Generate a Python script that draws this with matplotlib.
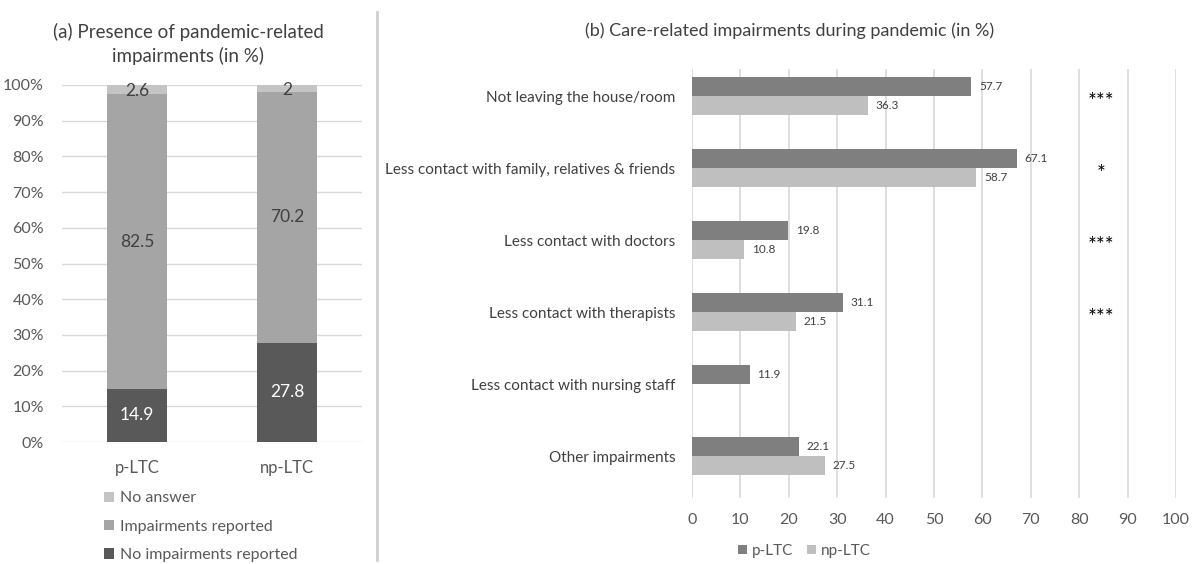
import numpy as np
import matplotlib.pyplot as plt

plt.rcParams['font.family'] = ['Lato', 'DejaVu Sans']

# left panel data
groups = ['p-LTC', 'np-LTC']
no_impair = [14.9, 27.8]
impair = [82.5, 70.2]
no_answer = [2.6, 2.0]

# right panel data
items = ['Not leaving the house/room',
         'Less contact with family, relatives & friends',
         'Less contact with doctors',
         'Less contact with therapists',
         'Less contact with nursing staff',
         'Other impairments']
p_ltc = [57.7, 67.1, 19.8, 31.1, 11.9, 22.1]
np_ltc = [36.3, 58.7, 10.8, 21.5, np.nan, 27.5]
stars = ['***', '*', '***', '***', '', '']

DARK = '#595959'
MID = '#a5a5a5'
LIGHT = '#c4c4c4'
BAR1 = '#7f7f7f'
BAR2 = '#bfbfbf'
TXT = '#404040'
GRID = '#d9d9d9'

fig = plt.figure(figsize=(11.94, 5.64), dpi=100)
W, H = 1194, 564

def px(x0, y0, x1, y1):
    return [x0 / W, 1 - y1 / H, (x1 - x0) / W, (y1 - y0) / H]

# ---- left: stacked bars
ax1 = fig.add_axes(px(62, 85, 362, 442))
x = np.arange(len(groups))
bw = 0.4
b1 = ax1.bar(x, no_impair, bw, color=DARK, label='No impairments reported')
b2 = ax1.bar(x, impair, bw, bottom=no_impair, color=MID, label='Impairments reported')
bot3 = np.array(no_impair) + np.array(impair)
b3 = ax1.bar(x, no_answer, bw, bottom=bot3, color=LIGHT, label='No answer')
for i in range(len(groups)):
    ax1.text(x[i], no_impair[i] / 2, '%g' % no_impair[i], ha='center', va='center',
             color='white', fontsize=12.5)
    ax1.text(x[i], no_impair[i] + impair[i] / 2, '%g' % impair[i], ha='center',
             va='center', color=TXT, fontsize=12.5)
    ax1.text(x[i], 100 - no_answer[i] / 2 - 0.3, '%g' % no_answer[i], ha='center',
             va='center', color=TXT, fontsize=12.5)
ax1.set_xlim(-0.5, 1.5)
ax1.set_ylim(0, 100)
ax1.set_yticks(np.arange(0, 101, 10))
ax1.set_yticklabels(['%d%%' % v for v in range(0, 101, 10)])
ax1.set_xticks(x)
ax1.set_xticklabels(groups)
ax1.tick_params(axis='y', length=0, labelsize=11.5, labelcolor='#595959', pad=13)
ax1.tick_params(axis='x', length=0, labelsize=12, labelcolor='#595959', pad=13)
for s in ax1.spines.values():
    s.set_visible(False)
ax1.yaxis.grid(True, color=GRID, lw=1)
ax1.set_axisbelow(True)
fig.text(188 / W, 1 - 44 / H, '(a) Presence of pandemic-related\nimpairments (in %)',
         ha='center', va='center', fontsize=13.5, color=TXT, linespacing=1.45)
fig.legend(handles=[b3, b2, b1], loc='upper left', bbox_to_anchor=(90 / W, 1 - 477 / H),
           frameon=False, fontsize=11.5, handlelength=0.6, handleheight=0.6,
           handletextpad=0.35, labelspacing=0.9, labelcolor='#595959')

# separator line
fig.add_artist(plt.Line2D([377 / W, 377 / W], [1 - 12 / H, 1 - 560 / H],
                          color='#cfcfcf', lw=2))

# ---- right: horizontal bars
ax2 = fig.add_axes(px(692, 69, 1176, 498))
y = np.arange(len(items))
bh = 0.265
r1 = ax2.barh(y - bh / 2, p_ltc, bh, color=BAR1, label='p-LTC')
r2 = ax2.barh(y + bh / 2, np_ltc, bh, color=BAR2, label='np-LTC')
for i in range(len(items)):
    ax2.text(p_ltc[i] + 1.6, y[i] - bh / 2, '%.1f' % p_ltc[i], va='center',
             fontsize=8.5, color=TXT)
    if not np.isnan(np_ltc[i]):
        ax2.text(np_ltc[i] + 1.6, y[i] + bh / 2, '%.1f' % np_ltc[i], va='center',
                 fontsize=8.5, color=TXT)
    if stars[i]:
        ax2.text(84.5, y[i] + 0.08, stars[i], ha='center', va='center',
                 fontsize=15, color='black')
ax2.set_xlim(0, 100)
ax2.set_ylim(5.583, -0.375)
ax2.set_xticks(np.arange(0, 101, 10))
ax2.set_yticks(y)
ax2.set_yticklabels(items)
ax2.tick_params(axis='y', length=0, labelsize=11, labelcolor=TXT, pad=12)
ax2.tick_params(axis='x', length=0, labelsize=11.5, labelcolor='#595959', pad=11)
for s in ax2.spines.values():
    s.set_visible(False)
ax2.xaxis.grid(True, color=GRID, lw=1.2)
ax2.set_axisbelow(True)
fig.text(790 / W, 1 - 31 / H, '(b) Care-related impairments during pandemic (in %)',
         ha='center', va='center', fontsize=13, color=TXT)
fig.legend(handles=[r1, r2], loc='center left', bbox_to_anchor=(724 / W, 1 - 551 / H),
           frameon=False, fontsize=11, ncol=2, handlelength=0.6, handleheight=0.6,
           handletextpad=0.3, columnspacing=0.9, labelcolor='#595959')

fig.savefig('out.png', dpi=100)
